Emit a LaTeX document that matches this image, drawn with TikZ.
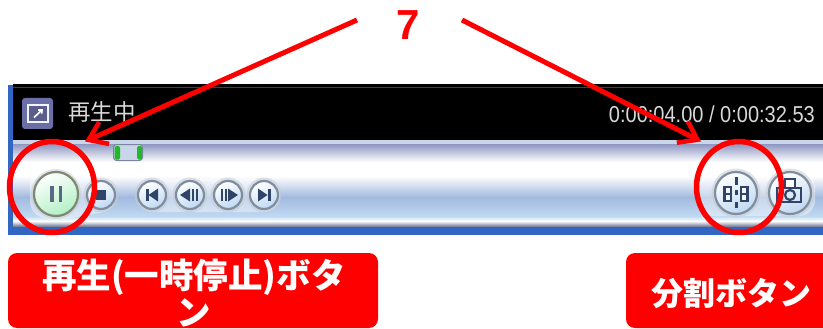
\documentclass[tikz,border=0pt]{standalone}
\usepackage{fontspec}
\usetikzlibrary{arrows.meta,calc,shapes.geometric}
\setmainfont{Liberation Sans}
\newfontfamily\cjk{Noto Sans CJK JP}
\definecolor{rd}{HTML}{FF0000}
\definecolor{frameblue}{HTML}{3166C2}
\definecolor{bandtop}{HTML}{C9D5E8}
\definecolor{banddark}{HTML}{8E97C2}
\definecolor{bandmid}{HTML}{A3BADF}
\definecolor{bandlow}{HTML}{BFD8F2}
\definecolor{bandedge}{HTML}{7C84A0}
\definecolor{ringgray}{HTML}{7F8D9E}
\definecolor{glyph}{HTML}{2F4468}
\definecolor{modeblue}{HTML}{6A6FA8}
\definecolor{knobgreen}{HTML}{22B82A}
\tikzset{
  x=1pt,y=-1pt,
  redarrow/.style={draw=rd,line width=5pt,-{Straight Barb[length=17pt,width=24pt,line width=4.6pt]}},
  redring/.style={ellipse,draw=rd,line width=5.5pt,minimum width=85pt,minimum height=91pt,inner sep=0pt},
  redlabel/.style={fill=rd,rounded corners=9pt,draw=none},
  labeltext/.style={text=white,font=\cjk\bfseries\fontsize{34.5}{37}\selectfont,align=center,inner sep=0pt},
  labeltextb/.style={text=white,font=\cjk\bfseries\fontsize{32}{37}\selectfont,align=center,inner sep=0pt},
  smallbtn/.style={circle,minimum size=28pt,inner sep=0pt,draw=ringgray,line width=2.2pt,
     top color=white,bottom color=bandlow,shading angle=25},
  bigbtn/.style={circle,minimum size=42pt,inner sep=0pt,draw=ringgray,line width=2.2pt,
     top color=white,bottom color=bandlow,shading angle=25},
  lcd/.style={text=white!85!black,inner sep=0pt,anchor=base west},
  haloring/.style={circle,fill=ringgray!45!white,opacity=.55,inner sep=0pt},
}
\begin{document}
\begin{tikzpicture}
\useasboundingbox (0,0) rectangle (823,329);
% panel frame
\fill[white] (0,0) rectangle (823,329);
\fill[frameblue] (8,85) rectangle (823,235);
\fill[black] (13,84) rectangle (823,140);
\fill[black!75!white] (13,87) rectangle (823,88.5);
% silver bar
\fill[bandtop] (13,140) rectangle (823,144);
\shade[top color=banddark,bottom color=white] (13,144) rectangle (823,162);
\fill[white] (13,162) rectangle (823,176);
\shade[top color=white,bottom color=bandmid] (13,176) rectangle (823,197);
\shade[top color=bandmid,bottom color=bandlow] (13,197) rectangle (823,216);
\shade[top color=bandlow,bottom color=white] (13,216) rectangle (823,221);
\shade[top color=white,bottom color=bandedge] (13,221) rectangle (823,226);
% slider knob
\node[draw=bandedge,line width=1pt,fill=bandtop,rounded corners=3pt,minimum width=29pt,minimum height=16pt,inner sep=0pt] (knob) at (128,152.5) {};
\fill[knobgreen,rounded corners=1.5pt] (114.5,146) rectangle (120,159.5);
\fill[knobgreen,rounded corners=1.5pt] (137,146) rectangle (142,159.5);
% screen texts
\node[lcd,font=\cjk\fontsize{22.5}{23}\selectfont] (status) at (68,121) {再生中};
\node[text=white!85!black,inner sep=0pt,anchor=base east,font=\fontsize{23}{23}\selectfont] (time) at (815,122) {\scalebox{0.87}[1]{0:00:04.00 / 0:00:32.53}};
% mode button
\node[fill=modeblue,rounded corners=3pt,minimum size=31pt,inner sep=0pt] (mode) at (37.5,113.5) {};
\draw[white!85!bandmid,line width=2pt,fill=modeblue!85!black] (28,105) rectangle (48,122);
\draw[white,line width=1.6pt,-{Straight Barb[length=3pt,width=5pt]}] (34,117.5) -- (43,109);
% halos
\fill[white,opacity=.4,rounded corners=14pt] (30,170) .. controls (60,166) and (85,168) .. (116,180) -- (116,210) -- (60,220) -- (30,216) -- cycle;
\fill[white,opacity=.4,rounded corners=16pt] (137,179) rectangle (280,212);
\fill[white,opacity=.4,rounded corners=16pt] (698,172) rectangle (815,216);
% transport buttons
\node[haloring,minimum size=50pt] at (56,194) {};
\node[circle,minimum size=44pt,inner sep=0pt,draw=ringgray!70!olive,line width=2.2pt,top color=white,bottom color=green!35!bandlow!60!white,shading angle=25] (pause) at (56,194) {};
\fill[glyph!80!white] (50,186) rectangle (53.5,202);
\fill[glyph!80!white] (58.5,186) rectangle (62,202);
\foreach \cx in {101,152,190,228,264}{\node[haloring,minimum size=35pt] at (\cx,195) {};}
\node[smallbtn] (stop) at (101,195) {};
\fill[glyph] (96,190) rectangle (106,200);
\node[smallbtn] (prev) at (152,195) {};
\fill[glyph] (146,189) rectangle (148.5,201);
\fill[glyph] (158,188.5) -- (158,201.5) -- (148.5,195) -- cycle;
\node[smallbtn] (back) at (190,195) {};
\fill[glyph] (190,188.5) -- (190,201.5) -- (180,195) -- cycle;
\fill[glyph] (191.5,189) rectangle (193.5,201);
\fill[glyph] (195.5,189) rectangle (197.5,201);
\node[smallbtn] (fwd) at (228,195) {};
\fill[glyph] (228,188.5) -- (228,201.5) -- (238,195) -- cycle;
\fill[glyph] (221,189) rectangle (223,201);
\fill[glyph] (224.5,189) rectangle (226.5,201);
\node[smallbtn] (next) at (264,195) {};
\fill[glyph] (258,188.5) -- (258,201.5) -- (267.5,195) -- cycle;
\fill[glyph] (268,189) rectangle (270.5,201);
% split and snapshot buttons
\node[haloring,minimum size=49pt] at (736,193) {};
\node[haloring,minimum size=49pt] at (790,193) {};
\node[bigbtn] (split) at (736,193) {};
\foreach \xx in {727.5,744}{
  \fill[glyph] (\xx-4.5,186) rectangle (\xx+4.5,202);
  \fill[white!80!bandlow] (\xx-2,188) rectangle (\xx+2,193);
  \fill[white!80!bandlow] (\xx-2,195) rectangle (\xx+2,200);
}
\fill[glyph] (734.5,177) rectangle (737.5,185);
\fill[glyph] (734.5,190) rectangle (737.5,195);
\fill[glyph] (734.5,202) rectangle (737.5,208);
\node[bigbtn] (snap) at (790,193) {};
\draw[glyph,line width=2.4pt] (777,188) rectangle (801,202);
\draw[glyph,line width=2pt,fill=white] (785,179) rectangle (795,188);
\draw[glyph,line width=2.2pt] (790,195) circle (5pt);
% red annotation
\node[text=rd,font=\bfseries\fontsize{42}{42}\selectfont,inner sep=0pt] (seven) at (408,25) {7};
\coordinate (la) at (357,20);
\coordinate (lb) at (85,141.5);
\coordinate (ra) at (462,20);
\coordinate (rb) at (701,141.5);
\draw[redarrow] (la) -- (lb);
\draw[redarrow] (ra) -- (rb);
\node[redring] (ringl) at (52,187) {};
\node[redring] (ringr) at (739,187) {};
% red labels
\fill[redlabel] (8,253) rectangle (378,328);
\fill[redlabel] (626,253) rectangle (835,328);
\node[labeltext] (labl) at (194,293) {再生(一時停止)ボタ\\ン};
\node[labeltextb] (labr) at (731,293.5) {分割ボタン};
\end{tikzpicture}
\end{document}
